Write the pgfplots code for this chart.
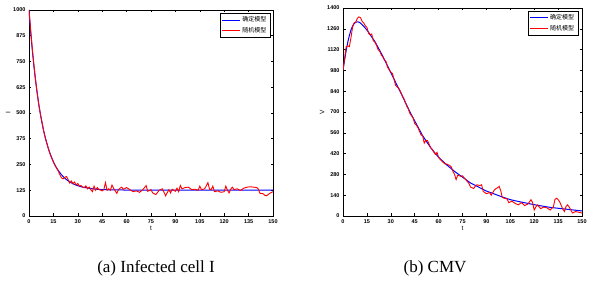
\documentclass[border=0pt]{standalone}
\usepackage{pgfplots}
\pgfplotsset{compat=1.18}
\usepackage{fontspec}
\setmainfont{Liberation Serif}
\newfontfamily\tickfont{Liberation Sans}
\newfontfamily\cjk{Noto Sans CJK SC}
\definecolor{mblue}{RGB}{0,0,255}
\definecolor{mred}{RGB}{255,0,0}
\pgfplotsset{
  mystyle/.style={
    scale only axis,
    anchor=south west,
    axis line style={line width=0.8pt},
    tick style={black,line width=0.5pt},
    major tick length=2.5pt,
    tick align=inside,
    xtick pos=both, ytick pos=both,
    tick label style={font=\tickfont\bfseries\fontsize{5.5}{6}\selectfont},
    /pgf/number format/assume math mode=true,
    /pgf/number format/1000 sep={},
    xmin=0,xmax=150,
    xtick={0,15,...,150},
    xlabel={t},
    label style={font=\tickfont\fontsize{6.5}{7}\selectfont},
    xlabel style={yshift=4pt},
    legend style={font=\cjk\fontsize{6}{7}\selectfont, inner sep=1.5pt, row sep=0pt, cells={anchor=west}},
    legend image code/.code={\draw[#1] (0pt,0pt) -- (18pt,0pt);},
  }
}
\begin{document}
\begin{tikzpicture}[x=1pt,y=1pt]
\useasboundingbox (0,0) rectangle (592,281);
\begin{axis}[mystyle, at={(29pt,65pt)}, width=244pt, height=206pt,
  ymin=0, ymax=1000, ytick={0,125,...,1000},
  ylabel={I}, ylabel style={yshift=-4pt},
  legend style={at={(0.988,0.985)}, anchor=north east}]
\addplot[mblue, line width=1pt] coordinates {
(0,1000)(1,896)(2,809)(3,729)(4,660)(5,598)(6,543)(7,495)(8,452)(9,414)(10,381)(11,352)(12,325)(13,302)(14,282)(15,264)(16,247)(17,233)(18,221)(19,210)(20,200)(22,183)(24,171)(26,161)(28,153)(30,147)(32,142)(35,137)(40,131)(45,128)(50,127)(60,126)(70,125)(150,125)};
\addlegendentry{确定模型}
\addplot[mred, line width=0.9pt] coordinates {
(0,1000)(1,905)(2,815)(3,735)(4,662)(5,600)(6,540)(7,495)(8,455)(9,412)(10,380)(11,352)(12,325)(13,300)(14,280)(15,262)(16,245)(17,232)(18,218)(19,200)(20,185)(21,180)(22,188)(23,192)(24,178)(25,160)(26,170)(27,158)(28,165)(29,150)(30,158)(31,145)(32,148)(33,140)(34,138)(35,146)(36,132)(37,140)(38,128)(39,118)(40,145)(41,125)(42,138)(43,128)(44,126)(45,122)(46,128)(47,162)(48,125)(49,132)(50,125)(51,150)(52,135)(53,122)(54,110)(55,128)(56,135)(57,140)(58,130)(60,138)(62,128)(64,118)(66,122)(68,115)(70,128)(72,148)(73,120)(75,128)(76,112)(78,104)(80,125)(82,132)(84,98)(86,128)(87,112)(88,130)(90,120)(91,135)(92,118)(93,148)(94,132)(96,138)(98,140)(100,128)(102,130)(104,125)(105,145)(106,128)(108,132)(110,162)(111,130)(112,128)(113,145)(114,118)(116,122)(118,115)(120,118)(121,145)(122,125)(123,112)(124,130)(125,140)(126,128)(128,132)(130,124)(132,135)(134,140)(136,142)(138,140)(140,138)(141,130)(142,110)(144,108)(145,100)(146,98)(148,110)(150,118)};
\addlegendentry{随机模型}
\end{axis}
\begin{axis}[mystyle, at={(343pt,65pt)}, width=239pt, height=208pt,
  ymin=0, ymax=1400, ytick={0,140,...,1400},
  ylabel={V}, ylabel style={yshift=-4pt},
  legend style={at={(0.983,0.986)}, anchor=north east}]
\addplot[mblue, line width=1pt] coordinates {
(0,980)(1,1050)(2,1115)(3,1170)(4,1215)(5,1252)(6,1278)(7,1295)(8,1304)(9,1307)(10,1305)(11,1298)(12,1288)(14,1265)(16,1238)(18,1205)(20,1175)(22,1135)(25,1075)(28,1010)(30,965)(33,900)(36,835)(40,745)(43,680)(46,620)(50,540)(55,460)(60,395)(65,345)(70,300)(75,262)(80,222)(85,195)(90,168)(95,148)(100,128)(105,110)(110,98)(115,87)(120,76)(125,67)(130,58)(135,52)(140,46)(145,40)(150,34)};
\addlegendentry{确定模型}
\addplot[mred, line width=0.9pt] coordinates {
(0,980)(1,1060)(2,1140)(3,1145)(4,1140)(5,1200)(6,1270)(7,1300)(8,1305)(9,1330)(10,1340)(11,1335)(12,1310)(13,1300)(14,1280)(15,1270)(16,1230)(17,1220)(18,1225)(19,1180)(20,1170)(21,1150)(22,1120)(23,1110)(24,1085)(25,1070)(26,1050)(27,1040)(28,1000)(29,985)(30,968)(31,960)(32,920)(33,880)(34,868)(35,860)(36,840)(37,815)(38,795)(39,770)(40,740)(41,720)(42,690)(43,675)(44,660)(45,622)(46,612)(47,595)(48,570)(49,545)(50,540)(51,490)(52,510)(53,508)(54,485)(55,460)(56,450)(57,430)(58,415)(59,428)(60,395)(61,380)(62,370)(63,360)(64,350)(65,350)(66,345)(67,340)(68,330)(69,300)(70,280)(71,245)(72,275)(73,270)(74,268)(75,270)(77,245)(79,220)(80,195)(82,185)(83,200)(84,210)(86,205)(87,210)(88,165)(89,158)(90,150)(92,158)(93,140)(95,175)(96,185)(97,190)(98,200)(99,170)(100,125)(101,120)(103,115)(104,90)(106,100)(108,85)(110,75)(112,90)(114,70)(116,80)(118,110)(119,90)(120,40)(121,60)(122,75)(124,50)(126,60)(128,55)(130,40)(132,60)(133,110)(134,120)(135,110)(136,95)(138,45)(139,30)(140,65)(141,75)(142,60)(144,20)(146,30)(148,25)(150,20)};
\addlegendentry{随机模型}
\end{axis}
\node[font=\fontsize{17}{19}\selectfont] at (156,13) {(a) Infected cell I};
\node[font=\fontsize{17}{19}\selectfont] at (435,13) {(b) CMV};
\end{tikzpicture}
\end{document}
